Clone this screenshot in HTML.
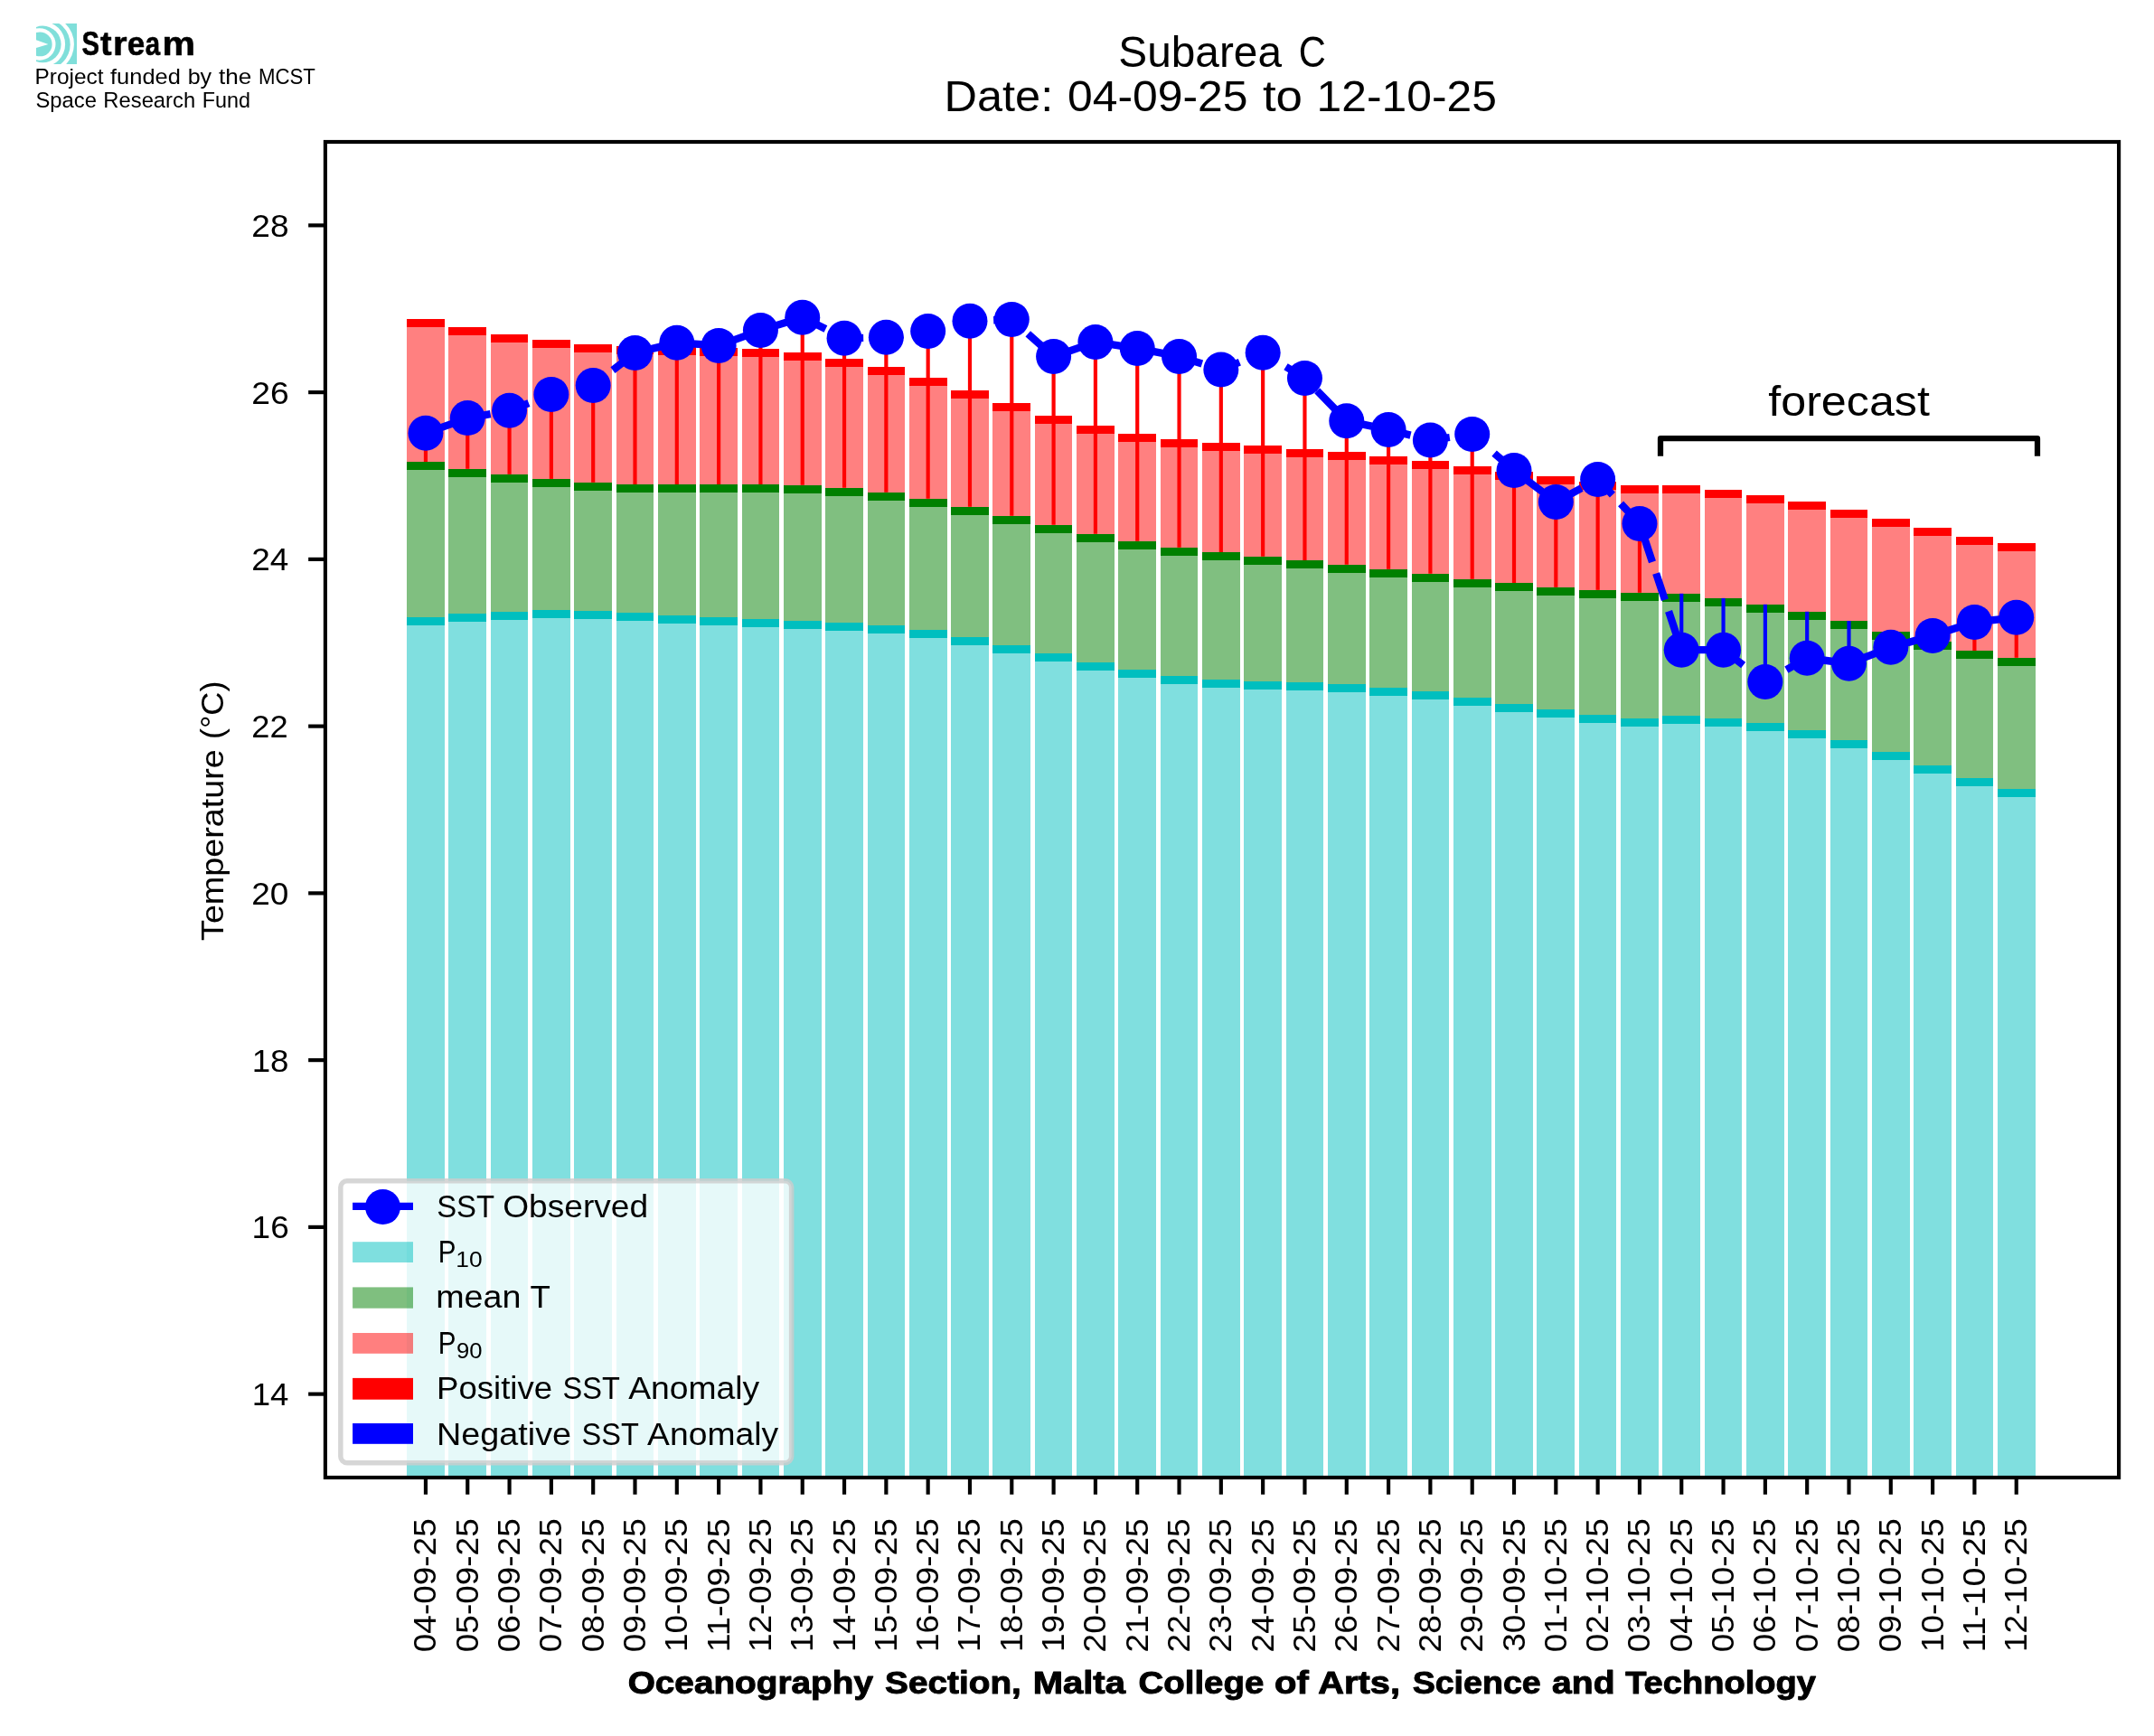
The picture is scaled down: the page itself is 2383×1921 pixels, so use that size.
<!DOCTYPE html>
<html lang="en"><head><meta charset="utf-8"><title>Subarea C SST</title>
<style>html,body{margin:0;padding:0;background:#fff;}body{width:2383px;height:1921px;overflow:hidden;font-family:"Liberation Sans",sans-serif;}svg{display:block;will-change:transform;}</style>
</head><body>
<svg width="2383" height="1921" viewBox="0 0 2383 1921" font-family="Liberation Sans, sans-serif" fill="#000">
<rect width="2383" height="1921" fill="#fff"/>
<defs><clipPath id="lg"><rect x="40" y="25.9" width="45.1" height="45.1"/></clipPath></defs>
<g clip-path="url(#lg)"><rect x="40" y="25.9" width="45.1" height="45.1" fill="#80dfda"/><circle cx="49.64" cy="48.96" r="32.26" fill="#fff"/><circle cx="49.85" cy="49.14" r="27.85" fill="#80dfda"/><circle cx="46.96" cy="48.88" r="25.14" fill="#fff"/><circle cx="47.25" cy="48.95" r="20.35" fill="#80dfda"/><circle cx="43.75" cy="48.95" r="17.75" fill="#fff"/><circle cx="44.2" cy="48.9" r="13.45" fill="#80dfda"/><path d="M39,43.9 L53.4,49.06 L39,53.4 Z" fill="#fff"/></g>
<text y="61.3" font-size="37" font-weight="bold" stroke="#000" stroke-width="0.6" stroke-linejoin="round"><tspan x="90.55" textLength="19.51" lengthAdjust="spacingAndGlyphs">S</tspan><tspan x="111.03" textLength="12.57" lengthAdjust="spacingAndGlyphs">t</tspan><tspan x="125.10" textLength="15.57" lengthAdjust="spacingAndGlyphs">r</tspan><tspan x="140.69" textLength="19.49" lengthAdjust="spacingAndGlyphs">e</tspan><tspan x="160.69" textLength="16.32" lengthAdjust="spacingAndGlyphs">a</tspan><tspan x="179.63" textLength="36.50" lengthAdjust="spacingAndGlyphs">m</tspan></text>
<text y="92.80" font-size="23.53"><tspan x="38.49" textLength="76.00" lengthAdjust="spacingAndGlyphs">Project</tspan> <tspan x="122.07" textLength="77.75" lengthAdjust="spacingAndGlyphs">funded</tspan> <tspan x="207.69" textLength="26.47" lengthAdjust="spacingAndGlyphs">by</tspan> <tspan x="242.05" textLength="36.37" lengthAdjust="spacingAndGlyphs">the</tspan> <tspan x="285.95" textLength="62.96" lengthAdjust="spacingAndGlyphs">MCST</tspan></text>
<text y="118.80" font-size="23.53"><tspan x="39.43" textLength="67.46" lengthAdjust="spacingAndGlyphs">Space</tspan> <tspan x="114.35" textLength="101.78" lengthAdjust="spacingAndGlyphs">Research</tspan> <tspan x="223.81" textLength="53.30" lengthAdjust="spacingAndGlyphs">Fund</tspan></text>
<text y="74.30" font-size="47.70"><tspan x="1237.35" textLength="180.61" lengthAdjust="spacingAndGlyphs">Subarea</tspan> <tspan x="1436.77" textLength="30.12" lengthAdjust="spacingAndGlyphs">C</tspan></text>
<text y="123.30" font-size="47.70"><tspan x="1044.53" textLength="120.69" lengthAdjust="spacingAndGlyphs">Date:</tspan> <tspan x="1181.09" textLength="199.42" lengthAdjust="spacingAndGlyphs">04-09-25</tspan> <tspan x="1396.95" textLength="44.10" lengthAdjust="spacingAndGlyphs">to</tspan> <tspan x="1456.59" textLength="199.28" lengthAdjust="spacingAndGlyphs">12-10-25</tspan></text>
<rect x="450" y="683" width="42" height="952.0" fill="#80dfdf"/>
<rect x="450" y="511" width="42" height="172" fill="#80bf80"/>
<rect x="450" y="353" width="42" height="158" fill="#ff8080"/>
<rect x="450" y="683" width="42" height="9" fill="#00bfbf"/>
<rect x="450" y="511" width="42" height="9" fill="#008000"/>
<rect x="450" y="353" width="42" height="9" fill="#ff0000"/>
<rect x="496" y="679" width="42" height="956.0" fill="#80dfdf"/>
<rect x="496" y="519" width="42" height="160" fill="#80bf80"/>
<rect x="496" y="362" width="42" height="157" fill="#ff8080"/>
<rect x="496" y="679" width="42" height="9" fill="#00bfbf"/>
<rect x="496" y="519" width="42" height="9" fill="#008000"/>
<rect x="496" y="362" width="42" height="9" fill="#ff0000"/>
<rect x="543" y="677" width="41" height="958.0" fill="#80dfdf"/>
<rect x="543" y="525" width="41" height="152" fill="#80bf80"/>
<rect x="543" y="370" width="41" height="155" fill="#ff8080"/>
<rect x="543" y="677" width="41" height="9" fill="#00bfbf"/>
<rect x="543" y="525" width="41" height="9" fill="#008000"/>
<rect x="543" y="370" width="41" height="9" fill="#ff0000"/>
<rect x="589" y="675" width="42" height="960.0" fill="#80dfdf"/>
<rect x="589" y="530" width="42" height="145" fill="#80bf80"/>
<rect x="589" y="376" width="42" height="154" fill="#ff8080"/>
<rect x="589" y="675" width="42" height="9" fill="#00bfbf"/>
<rect x="589" y="530" width="42" height="9" fill="#008000"/>
<rect x="589" y="376" width="42" height="9" fill="#ff0000"/>
<rect x="635" y="676" width="42" height="959.0" fill="#80dfdf"/>
<rect x="635" y="534" width="42" height="142" fill="#80bf80"/>
<rect x="635" y="381" width="42" height="153" fill="#ff8080"/>
<rect x="635" y="676" width="42" height="9" fill="#00bfbf"/>
<rect x="635" y="534" width="42" height="9" fill="#008000"/>
<rect x="635" y="381" width="42" height="9" fill="#ff0000"/>
<rect x="682" y="678" width="41" height="957.0" fill="#80dfdf"/>
<rect x="682" y="536" width="41" height="142" fill="#80bf80"/>
<rect x="682" y="383" width="41" height="153" fill="#ff8080"/>
<rect x="682" y="678" width="41" height="9" fill="#00bfbf"/>
<rect x="682" y="536" width="41" height="9" fill="#008000"/>
<rect x="682" y="383" width="41" height="9" fill="#ff0000"/>
<rect x="728" y="681" width="42" height="954.0" fill="#80dfdf"/>
<rect x="728" y="536" width="42" height="145" fill="#80bf80"/>
<rect x="728" y="384" width="42" height="152" fill="#ff8080"/>
<rect x="728" y="681" width="42" height="9" fill="#00bfbf"/>
<rect x="728" y="536" width="42" height="9" fill="#008000"/>
<rect x="728" y="384" width="42" height="9" fill="#ff0000"/>
<rect x="774" y="683" width="42" height="952.0" fill="#80dfdf"/>
<rect x="774" y="536" width="42" height="147" fill="#80bf80"/>
<rect x="774" y="385" width="42" height="151" fill="#ff8080"/>
<rect x="774" y="683" width="42" height="9" fill="#00bfbf"/>
<rect x="774" y="536" width="42" height="9" fill="#008000"/>
<rect x="774" y="385" width="42" height="9" fill="#ff0000"/>
<rect x="821" y="685" width="41" height="950.0" fill="#80dfdf"/>
<rect x="821" y="536" width="41" height="149" fill="#80bf80"/>
<rect x="821" y="386" width="41" height="150" fill="#ff8080"/>
<rect x="821" y="685" width="41" height="9" fill="#00bfbf"/>
<rect x="821" y="536" width="41" height="9" fill="#008000"/>
<rect x="821" y="386" width="41" height="9" fill="#ff0000"/>
<rect x="867" y="687" width="42" height="948.0" fill="#80dfdf"/>
<rect x="867" y="537" width="42" height="150" fill="#80bf80"/>
<rect x="867" y="390" width="42" height="147" fill="#ff8080"/>
<rect x="867" y="687" width="42" height="9" fill="#00bfbf"/>
<rect x="867" y="537" width="42" height="9" fill="#008000"/>
<rect x="867" y="390" width="42" height="9" fill="#ff0000"/>
<rect x="913" y="689" width="42" height="946.0" fill="#80dfdf"/>
<rect x="913" y="540" width="42" height="149" fill="#80bf80"/>
<rect x="913" y="397" width="42" height="143" fill="#ff8080"/>
<rect x="913" y="689" width="42" height="9" fill="#00bfbf"/>
<rect x="913" y="540" width="42" height="9" fill="#008000"/>
<rect x="913" y="397" width="42" height="9" fill="#ff0000"/>
<rect x="960" y="692" width="41" height="943.0" fill="#80dfdf"/>
<rect x="960" y="545" width="41" height="147" fill="#80bf80"/>
<rect x="960" y="406" width="41" height="139" fill="#ff8080"/>
<rect x="960" y="692" width="41" height="9" fill="#00bfbf"/>
<rect x="960" y="545" width="41" height="9" fill="#008000"/>
<rect x="960" y="406" width="41" height="9" fill="#ff0000"/>
<rect x="1006" y="697" width="42" height="938.0" fill="#80dfdf"/>
<rect x="1006" y="552" width="42" height="145" fill="#80bf80"/>
<rect x="1006" y="418" width="42" height="134" fill="#ff8080"/>
<rect x="1006" y="697" width="42" height="9" fill="#00bfbf"/>
<rect x="1006" y="552" width="42" height="9" fill="#008000"/>
<rect x="1006" y="418" width="42" height="9" fill="#ff0000"/>
<rect x="1052" y="705" width="42" height="930.0" fill="#80dfdf"/>
<rect x="1052" y="561" width="42" height="144" fill="#80bf80"/>
<rect x="1052" y="432" width="42" height="129" fill="#ff8080"/>
<rect x="1052" y="705" width="42" height="9" fill="#00bfbf"/>
<rect x="1052" y="561" width="42" height="9" fill="#008000"/>
<rect x="1052" y="432" width="42" height="9" fill="#ff0000"/>
<rect x="1098" y="714" width="42" height="921.0" fill="#80dfdf"/>
<rect x="1098" y="571" width="42" height="143" fill="#80bf80"/>
<rect x="1098" y="446" width="42" height="125" fill="#ff8080"/>
<rect x="1098" y="714" width="42" height="9" fill="#00bfbf"/>
<rect x="1098" y="571" width="42" height="9" fill="#008000"/>
<rect x="1098" y="446" width="42" height="9" fill="#ff0000"/>
<rect x="1145" y="723" width="41" height="912.0" fill="#80dfdf"/>
<rect x="1145" y="581" width="41" height="142" fill="#80bf80"/>
<rect x="1145" y="460" width="41" height="121" fill="#ff8080"/>
<rect x="1145" y="723" width="41" height="9" fill="#00bfbf"/>
<rect x="1145" y="581" width="41" height="9" fill="#008000"/>
<rect x="1145" y="460" width="41" height="9" fill="#ff0000"/>
<rect x="1191" y="733" width="42" height="902.0" fill="#80dfdf"/>
<rect x="1191" y="591" width="42" height="142" fill="#80bf80"/>
<rect x="1191" y="471" width="42" height="120" fill="#ff8080"/>
<rect x="1191" y="733" width="42" height="9" fill="#00bfbf"/>
<rect x="1191" y="591" width="42" height="9" fill="#008000"/>
<rect x="1191" y="471" width="42" height="9" fill="#ff0000"/>
<rect x="1237" y="741" width="42" height="894.0" fill="#80dfdf"/>
<rect x="1237" y="599" width="42" height="142" fill="#80bf80"/>
<rect x="1237" y="480" width="42" height="119" fill="#ff8080"/>
<rect x="1237" y="741" width="42" height="9" fill="#00bfbf"/>
<rect x="1237" y="599" width="42" height="9" fill="#008000"/>
<rect x="1237" y="480" width="42" height="9" fill="#ff0000"/>
<rect x="1284" y="748" width="41" height="887.0" fill="#80dfdf"/>
<rect x="1284" y="606" width="41" height="142" fill="#80bf80"/>
<rect x="1284" y="486" width="41" height="120" fill="#ff8080"/>
<rect x="1284" y="748" width="41" height="9" fill="#00bfbf"/>
<rect x="1284" y="606" width="41" height="9" fill="#008000"/>
<rect x="1284" y="486" width="41" height="9" fill="#ff0000"/>
<rect x="1330" y="752" width="42" height="883.0" fill="#80dfdf"/>
<rect x="1330" y="611" width="42" height="141" fill="#80bf80"/>
<rect x="1330" y="490" width="42" height="121" fill="#ff8080"/>
<rect x="1330" y="752" width="42" height="9" fill="#00bfbf"/>
<rect x="1330" y="611" width="42" height="9" fill="#008000"/>
<rect x="1330" y="490" width="42" height="9" fill="#ff0000"/>
<rect x="1376" y="754" width="42" height="881.0" fill="#80dfdf"/>
<rect x="1376" y="616" width="42" height="138" fill="#80bf80"/>
<rect x="1376" y="493" width="42" height="123" fill="#ff8080"/>
<rect x="1376" y="754" width="42" height="9" fill="#00bfbf"/>
<rect x="1376" y="616" width="42" height="9" fill="#008000"/>
<rect x="1376" y="493" width="42" height="9" fill="#ff0000"/>
<rect x="1423" y="755" width="41" height="880.0" fill="#80dfdf"/>
<rect x="1423" y="620" width="41" height="135" fill="#80bf80"/>
<rect x="1423" y="497" width="41" height="123" fill="#ff8080"/>
<rect x="1423" y="755" width="41" height="9" fill="#00bfbf"/>
<rect x="1423" y="620" width="41" height="9" fill="#008000"/>
<rect x="1423" y="497" width="41" height="9" fill="#ff0000"/>
<rect x="1469" y="757" width="42" height="878.0" fill="#80dfdf"/>
<rect x="1469" y="625" width="42" height="132" fill="#80bf80"/>
<rect x="1469" y="500" width="42" height="125" fill="#ff8080"/>
<rect x="1469" y="757" width="42" height="9" fill="#00bfbf"/>
<rect x="1469" y="625" width="42" height="9" fill="#008000"/>
<rect x="1469" y="500" width="42" height="9" fill="#ff0000"/>
<rect x="1515" y="761" width="42" height="874.0" fill="#80dfdf"/>
<rect x="1515" y="630" width="42" height="131" fill="#80bf80"/>
<rect x="1515" y="505" width="42" height="125" fill="#ff8080"/>
<rect x="1515" y="761" width="42" height="9" fill="#00bfbf"/>
<rect x="1515" y="630" width="42" height="9" fill="#008000"/>
<rect x="1515" y="505" width="42" height="9" fill="#ff0000"/>
<rect x="1562" y="765" width="41" height="870.0" fill="#80dfdf"/>
<rect x="1562" y="635" width="41" height="130" fill="#80bf80"/>
<rect x="1562" y="510" width="41" height="125" fill="#ff8080"/>
<rect x="1562" y="765" width="41" height="9" fill="#00bfbf"/>
<rect x="1562" y="635" width="41" height="9" fill="#008000"/>
<rect x="1562" y="510" width="41" height="9" fill="#ff0000"/>
<rect x="1608" y="772" width="42" height="863.0" fill="#80dfdf"/>
<rect x="1608" y="641" width="42" height="131" fill="#80bf80"/>
<rect x="1608" y="516" width="42" height="125" fill="#ff8080"/>
<rect x="1608" y="772" width="42" height="9" fill="#00bfbf"/>
<rect x="1608" y="641" width="42" height="9" fill="#008000"/>
<rect x="1608" y="516" width="42" height="9" fill="#ff0000"/>
<rect x="1654" y="779" width="42" height="856.0" fill="#80dfdf"/>
<rect x="1654" y="645" width="42" height="134" fill="#80bf80"/>
<rect x="1654" y="522" width="42" height="123" fill="#ff8080"/>
<rect x="1654" y="779" width="42" height="9" fill="#00bfbf"/>
<rect x="1654" y="645" width="42" height="9" fill="#008000"/>
<rect x="1654" y="522" width="42" height="9" fill="#ff0000"/>
<rect x="1700" y="785" width="42" height="850.0" fill="#80dfdf"/>
<rect x="1700" y="650" width="42" height="135" fill="#80bf80"/>
<rect x="1700" y="527" width="42" height="123" fill="#ff8080"/>
<rect x="1700" y="785" width="42" height="9" fill="#00bfbf"/>
<rect x="1700" y="650" width="42" height="9" fill="#008000"/>
<rect x="1700" y="527" width="42" height="9" fill="#ff0000"/>
<rect x="1747" y="791" width="41" height="844.0" fill="#80dfdf"/>
<rect x="1747" y="653" width="41" height="138" fill="#80bf80"/>
<rect x="1747" y="533" width="41" height="120" fill="#ff8080"/>
<rect x="1747" y="791" width="41" height="9" fill="#00bfbf"/>
<rect x="1747" y="653" width="41" height="9" fill="#008000"/>
<rect x="1747" y="533" width="41" height="9" fill="#ff0000"/>
<rect x="1793" y="795" width="42" height="840.0" fill="#80dfdf"/>
<rect x="1793" y="656" width="42" height="139" fill="#80bf80"/>
<rect x="1793" y="537" width="42" height="119" fill="#ff8080"/>
<rect x="1793" y="795" width="42" height="9" fill="#00bfbf"/>
<rect x="1793" y="656" width="42" height="9" fill="#008000"/>
<rect x="1793" y="537" width="42" height="9" fill="#ff0000"/>
<rect x="1839" y="792" width="42" height="843.0" fill="#80dfdf"/>
<rect x="1839" y="657" width="42" height="135" fill="#80bf80"/>
<rect x="1839" y="537" width="42" height="120" fill="#ff8080"/>
<rect x="1839" y="792" width="42" height="9" fill="#00bfbf"/>
<rect x="1839" y="657" width="42" height="9" fill="#008000"/>
<rect x="1839" y="537" width="42" height="9" fill="#ff0000"/>
<rect x="1886" y="795" width="41" height="840.0" fill="#80dfdf"/>
<rect x="1886" y="662" width="41" height="133" fill="#80bf80"/>
<rect x="1886" y="542" width="41" height="120" fill="#ff8080"/>
<rect x="1886" y="795" width="41" height="9" fill="#00bfbf"/>
<rect x="1886" y="662" width="41" height="9" fill="#008000"/>
<rect x="1886" y="542" width="41" height="9" fill="#ff0000"/>
<rect x="1932" y="800" width="42" height="835.0" fill="#80dfdf"/>
<rect x="1932" y="669" width="42" height="131" fill="#80bf80"/>
<rect x="1932" y="548" width="42" height="121" fill="#ff8080"/>
<rect x="1932" y="800" width="42" height="9" fill="#00bfbf"/>
<rect x="1932" y="669" width="42" height="9" fill="#008000"/>
<rect x="1932" y="548" width="42" height="9" fill="#ff0000"/>
<rect x="1978" y="808" width="42" height="827.0" fill="#80dfdf"/>
<rect x="1978" y="677" width="42" height="131" fill="#80bf80"/>
<rect x="1978" y="555" width="42" height="122" fill="#ff8080"/>
<rect x="1978" y="808" width="42" height="9" fill="#00bfbf"/>
<rect x="1978" y="677" width="42" height="9" fill="#008000"/>
<rect x="1978" y="555" width="42" height="9" fill="#ff0000"/>
<rect x="2025" y="819" width="41" height="816.0" fill="#80dfdf"/>
<rect x="2025" y="687" width="41" height="132" fill="#80bf80"/>
<rect x="2025" y="564" width="41" height="123" fill="#ff8080"/>
<rect x="2025" y="819" width="41" height="9" fill="#00bfbf"/>
<rect x="2025" y="687" width="41" height="9" fill="#008000"/>
<rect x="2025" y="564" width="41" height="9" fill="#ff0000"/>
<rect x="2071" y="832" width="42" height="803.0" fill="#80dfdf"/>
<rect x="2071" y="699" width="42" height="133" fill="#80bf80"/>
<rect x="2071" y="574" width="42" height="125" fill="#ff8080"/>
<rect x="2071" y="832" width="42" height="9" fill="#00bfbf"/>
<rect x="2071" y="699" width="42" height="9" fill="#008000"/>
<rect x="2071" y="574" width="42" height="9" fill="#ff0000"/>
<rect x="2117" y="847" width="42" height="788.0" fill="#80dfdf"/>
<rect x="2117" y="710" width="42" height="137" fill="#80bf80"/>
<rect x="2117" y="584" width="42" height="126" fill="#ff8080"/>
<rect x="2117" y="847" width="42" height="9" fill="#00bfbf"/>
<rect x="2117" y="710" width="42" height="9" fill="#008000"/>
<rect x="2117" y="584" width="42" height="9" fill="#ff0000"/>
<rect x="2164" y="861" width="41" height="774.0" fill="#80dfdf"/>
<rect x="2164" y="720" width="41" height="141" fill="#80bf80"/>
<rect x="2164" y="594" width="41" height="126" fill="#ff8080"/>
<rect x="2164" y="861" width="41" height="9" fill="#00bfbf"/>
<rect x="2164" y="720" width="41" height="9" fill="#008000"/>
<rect x="2164" y="594" width="41" height="9" fill="#ff0000"/>
<rect x="2210" y="873" width="42" height="762.0" fill="#80dfdf"/>
<rect x="2210" y="728" width="42" height="145" fill="#80bf80"/>
<rect x="2210" y="601" width="42" height="127" fill="#ff8080"/>
<rect x="2210" y="873" width="42" height="9" fill="#00bfbf"/>
<rect x="2210" y="728" width="42" height="9" fill="#008000"/>
<rect x="2210" y="601" width="42" height="9" fill="#ff0000"/>
<line x1="470.95" x2="470.95" y1="511.0" y2="479.2" stroke="#ff0000" stroke-width="4.17"/>
<line x1="517.26" x2="517.26" y1="518.8" y2="462.6" stroke="#ff0000" stroke-width="4.17"/>
<line x1="563.57" x2="563.57" y1="524.8" y2="454.3" stroke="#ff0000" stroke-width="4.17"/>
<line x1="609.88" x2="609.88" y1="529.9" y2="436.4" stroke="#ff0000" stroke-width="4.17"/>
<line x1="656.19" x2="656.19" y1="533.8" y2="426.5" stroke="#ff0000" stroke-width="4.17"/>
<line x1="702.50" x2="702.50" y1="535.9" y2="390.5" stroke="#ff0000" stroke-width="4.17"/>
<line x1="748.81" x2="748.81" y1="535.9" y2="379.2" stroke="#ff0000" stroke-width="4.17"/>
<line x1="795.12" x2="795.12" y1="535.9" y2="382.4" stroke="#ff0000" stroke-width="4.17"/>
<line x1="841.43" x2="841.43" y1="535.9" y2="365.5" stroke="#ff0000" stroke-width="4.17"/>
<line x1="887.74" x2="887.74" y1="536.8" y2="351.3" stroke="#ff0000" stroke-width="4.17"/>
<line x1="934.05" x2="934.05" y1="539.8" y2="374.3" stroke="#ff0000" stroke-width="4.17"/>
<line x1="980.36" x2="980.36" y1="544.7" y2="373.3" stroke="#ff0000" stroke-width="4.17"/>
<line x1="1026.67" x2="1026.67" y1="551.7" y2="366.4" stroke="#ff0000" stroke-width="4.17"/>
<line x1="1072.98" x2="1072.98" y1="560.7" y2="355.3" stroke="#ff0000" stroke-width="4.17"/>
<line x1="1119.29" x2="1119.29" y1="570.7" y2="353.4" stroke="#ff0000" stroke-width="4.17"/>
<line x1="1165.60" x2="1165.60" y1="580.7" y2="394.5" stroke="#ff0000" stroke-width="4.17"/>
<line x1="1211.91" x2="1211.91" y1="590.7" y2="378.5" stroke="#ff0000" stroke-width="4.17"/>
<line x1="1258.22" x2="1258.22" y1="598.8" y2="385.5" stroke="#ff0000" stroke-width="4.17"/>
<line x1="1304.53" x2="1304.53" y1="605.7" y2="394.5" stroke="#ff0000" stroke-width="4.17"/>
<line x1="1350.84" x2="1350.84" y1="610.9" y2="409.1" stroke="#ff0000" stroke-width="4.17"/>
<line x1="1397.15" x2="1397.15" y1="615.7" y2="390.3" stroke="#ff0000" stroke-width="4.17"/>
<line x1="1443.46" x2="1443.46" y1="619.9" y2="418.4" stroke="#ff0000" stroke-width="4.17"/>
<line x1="1489.77" x2="1489.77" y1="624.8" y2="465.8" stroke="#ff0000" stroke-width="4.17"/>
<line x1="1536.08" x2="1536.08" y1="629.7" y2="475.5" stroke="#ff0000" stroke-width="4.17"/>
<line x1="1582.39" x2="1582.39" y1="634.8" y2="487.1" stroke="#ff0000" stroke-width="4.17"/>
<line x1="1628.70" x2="1628.70" y1="640.8" y2="480.4" stroke="#ff0000" stroke-width="4.17"/>
<line x1="1675.01" x2="1675.01" y1="645.0" y2="520.6" stroke="#ff0000" stroke-width="4.17"/>
<line x1="1721.32" x2="1721.32" y1="649.8" y2="555.4" stroke="#ff0000" stroke-width="4.17"/>
<line x1="1767.63" x2="1767.63" y1="652.8" y2="530.4" stroke="#ff0000" stroke-width="4.17"/>
<line x1="1813.94" x2="1813.94" y1="655.8" y2="579.5" stroke="#ff0000" stroke-width="4.17"/>
<line x1="1860.25" x2="1860.25" y1="656.8" y2="719.2" stroke="#0000ff" stroke-width="4.17"/>
<line x1="1906.56" x2="1906.56" y1="661.9" y2="719.2" stroke="#0000ff" stroke-width="4.17"/>
<line x1="1952.87" x2="1952.87" y1="668.8" y2="754.5" stroke="#0000ff" stroke-width="4.17"/>
<line x1="1999.18" x2="1999.18" y1="676.8" y2="728.2" stroke="#0000ff" stroke-width="4.17"/>
<line x1="2045.49" x2="2045.49" y1="687.0" y2="734.2" stroke="#0000ff" stroke-width="4.17"/>
<line x1="2091.80" x2="2091.80" y1="699.0" y2="716.3" stroke="#0000ff" stroke-width="4.17"/>
<line x1="2138.11" x2="2138.11" y1="710.0" y2="703.4" stroke="#ff0000" stroke-width="4.17"/>
<line x1="2184.42" x2="2184.42" y1="720.0" y2="688.4" stroke="#ff0000" stroke-width="4.17"/>
<line x1="2230.73" x2="2230.73" y1="727.8" y2="683.3" stroke="#ff0000" stroke-width="4.17"/>
<polyline points="470.95,479.2 517.26,462.6 563.57,454.3 609.88,436.4 656.19,426.5 702.50,390.5 748.81,379.2 795.12,382.4 841.43,365.5 887.74,351.3 934.05,374.3 980.36,373.3 1026.67,366.4 1072.98,355.3 1119.29,353.4 1165.60,394.5 1211.91,378.5 1258.22,385.5 1304.53,394.5 1350.84,409.1 1397.15,390.3 1443.46,418.4 1489.77,465.8 1536.08,475.5 1582.39,487.1 1628.70,480.4 1675.01,520.6 1721.32,555.4 1767.63,530.4 1813.94,579.5 1860.25,719.2 1906.56,719.2 1952.87,754.5 1999.18,728.2 2045.49,734.2 2091.80,716.3 2138.11,703.4 2184.42,688.4 2230.73,683.3" fill="none" stroke="#0000ff" stroke-width="8.33" stroke-dasharray="30.83 13.33" stroke-linejoin="round"/>
<circle cx="470.95" cy="479.2" r="19.5" fill="#0000ff"/>
<circle cx="517.26" cy="462.6" r="19.5" fill="#0000ff"/>
<circle cx="563.57" cy="454.3" r="19.5" fill="#0000ff"/>
<circle cx="609.88" cy="436.4" r="19.5" fill="#0000ff"/>
<circle cx="656.19" cy="426.5" r="19.5" fill="#0000ff"/>
<circle cx="702.50" cy="390.5" r="19.5" fill="#0000ff"/>
<circle cx="748.81" cy="379.2" r="19.5" fill="#0000ff"/>
<circle cx="795.12" cy="382.4" r="19.5" fill="#0000ff"/>
<circle cx="841.43" cy="365.5" r="19.5" fill="#0000ff"/>
<circle cx="887.74" cy="351.3" r="19.5" fill="#0000ff"/>
<circle cx="934.05" cy="374.3" r="19.5" fill="#0000ff"/>
<circle cx="980.36" cy="373.3" r="19.5" fill="#0000ff"/>
<circle cx="1026.67" cy="366.4" r="19.5" fill="#0000ff"/>
<circle cx="1072.98" cy="355.3" r="19.5" fill="#0000ff"/>
<circle cx="1119.29" cy="353.4" r="19.5" fill="#0000ff"/>
<circle cx="1165.60" cy="394.5" r="19.5" fill="#0000ff"/>
<circle cx="1211.91" cy="378.5" r="19.5" fill="#0000ff"/>
<circle cx="1258.22" cy="385.5" r="19.5" fill="#0000ff"/>
<circle cx="1304.53" cy="394.5" r="19.5" fill="#0000ff"/>
<circle cx="1350.84" cy="409.1" r="19.5" fill="#0000ff"/>
<circle cx="1397.15" cy="390.3" r="19.5" fill="#0000ff"/>
<circle cx="1443.46" cy="418.4" r="19.5" fill="#0000ff"/>
<circle cx="1489.77" cy="465.8" r="19.5" fill="#0000ff"/>
<circle cx="1536.08" cy="475.5" r="19.5" fill="#0000ff"/>
<circle cx="1582.39" cy="487.1" r="19.5" fill="#0000ff"/>
<circle cx="1628.70" cy="480.4" r="19.5" fill="#0000ff"/>
<circle cx="1675.01" cy="520.6" r="19.5" fill="#0000ff"/>
<circle cx="1721.32" cy="555.4" r="19.5" fill="#0000ff"/>
<circle cx="1767.63" cy="530.4" r="19.5" fill="#0000ff"/>
<circle cx="1813.94" cy="579.5" r="19.5" fill="#0000ff"/>
<circle cx="1860.25" cy="719.2" r="19.5" fill="#0000ff"/>
<circle cx="1906.56" cy="719.2" r="19.5" fill="#0000ff"/>
<circle cx="1952.87" cy="754.5" r="19.5" fill="#0000ff"/>
<circle cx="1999.18" cy="728.2" r="19.5" fill="#0000ff"/>
<circle cx="2045.49" cy="734.2" r="19.5" fill="#0000ff"/>
<circle cx="2091.80" cy="716.3" r="19.5" fill="#0000ff"/>
<circle cx="2138.11" cy="703.4" r="19.5" fill="#0000ff"/>
<circle cx="2184.42" cy="688.4" r="19.5" fill="#0000ff"/>
<circle cx="2230.73" cy="683.3" r="19.5" fill="#0000ff"/>
<polyline points="1837,504.7 1837,485.2 2254,485.2 2254,504.7" fill="none" stroke="#000" stroke-width="6.25" stroke-linejoin="round"/>
<text y="459.50" font-size="47.06"><tspan x="1956.27" textLength="178.59" lengthAdjust="spacingAndGlyphs">forecast</tspan></text>
<rect x="359.9" y="157.0" width="1984.2" height="1478.0" fill="none" stroke="#000" stroke-width="4.17"/>
<line x1="341.15" x2="359.90" y1="1542.62" y2="1542.62" stroke="#000" stroke-width="4.17"/>
<text y="1555.12" font-size="35.66"><tspan x="278.66" textLength="40.75" lengthAdjust="spacingAndGlyphs">14</tspan></text>
<line x1="341.15" x2="359.90" y1="1357.88" y2="1357.88" stroke="#000" stroke-width="4.17"/>
<text y="1370.38" font-size="35.66"><tspan x="278.63" textLength="41.18" lengthAdjust="spacingAndGlyphs">16</tspan></text>
<line x1="341.15" x2="359.90" y1="1173.12" y2="1173.12" stroke="#000" stroke-width="4.17"/>
<text y="1185.62" font-size="35.66"><tspan x="278.65" textLength="40.90" lengthAdjust="spacingAndGlyphs">18</tspan></text>
<line x1="341.15" x2="359.90" y1="988.38" y2="988.38" stroke="#000" stroke-width="4.17"/>
<text y="1000.88" font-size="35.66"><tspan x="278.30" textLength="41.15" lengthAdjust="spacingAndGlyphs">20</tspan></text>
<line x1="341.15" x2="359.90" y1="803.62" y2="803.62" stroke="#000" stroke-width="4.17"/>
<text y="816.12" font-size="35.66"><tspan x="278.34" textLength="40.37" lengthAdjust="spacingAndGlyphs">22</tspan></text>
<line x1="341.15" x2="359.90" y1="618.88" y2="618.88" stroke="#000" stroke-width="4.17"/>
<text y="631.38" font-size="35.66"><tspan x="278.31" textLength="41.11" lengthAdjust="spacingAndGlyphs">24</tspan></text>
<line x1="341.15" x2="359.90" y1="434.12" y2="434.12" stroke="#000" stroke-width="4.17"/>
<text y="446.62" font-size="35.66"><tspan x="278.29" textLength="41.54" lengthAdjust="spacingAndGlyphs">26</tspan></text>
<line x1="341.15" x2="359.90" y1="249.38" y2="249.38" stroke="#000" stroke-width="4.17"/>
<text y="261.88" font-size="35.66"><tspan x="278.30" textLength="41.26" lengthAdjust="spacingAndGlyphs">28</tspan></text>
<line x1="470.95" x2="470.95" y1="1635.00" y2="1653.75" stroke="#000" stroke-width="4.17"/>
<text transform="translate(482.45,1828.95) rotate(-90)" x="0.76" y="0" font-size="35.66" textLength="147.89" lengthAdjust="spacingAndGlyphs">04-09-25</text>
<line x1="517.26" x2="517.26" y1="1635.00" y2="1653.75" stroke="#000" stroke-width="4.17"/>
<text transform="translate(528.76,1828.95) rotate(-90)" x="0.76" y="0" font-size="35.66" textLength="147.89" lengthAdjust="spacingAndGlyphs">05-09-25</text>
<line x1="563.57" x2="563.57" y1="1635.00" y2="1653.75" stroke="#000" stroke-width="4.17"/>
<text transform="translate(575.07,1828.95) rotate(-90)" x="0.76" y="0" font-size="35.66" textLength="147.89" lengthAdjust="spacingAndGlyphs">06-09-25</text>
<line x1="609.88" x2="609.88" y1="1635.00" y2="1653.75" stroke="#000" stroke-width="4.17"/>
<text transform="translate(621.38,1828.95) rotate(-90)" x="0.76" y="0" font-size="35.66" textLength="147.89" lengthAdjust="spacingAndGlyphs">07-09-25</text>
<line x1="656.19" x2="656.19" y1="1635.00" y2="1653.75" stroke="#000" stroke-width="4.17"/>
<text transform="translate(667.69,1828.95) rotate(-90)" x="0.76" y="0" font-size="35.66" textLength="147.89" lengthAdjust="spacingAndGlyphs">08-09-25</text>
<line x1="702.50" x2="702.50" y1="1635.00" y2="1653.75" stroke="#000" stroke-width="4.17"/>
<text transform="translate(714.00,1828.95) rotate(-90)" x="0.76" y="0" font-size="35.66" textLength="147.89" lengthAdjust="spacingAndGlyphs">09-09-25</text>
<line x1="748.81" x2="748.81" y1="1635.00" y2="1653.75" stroke="#000" stroke-width="4.17"/>
<text transform="translate(760.31,1828.95) rotate(-90)" x="0.87" y="0" font-size="35.66" textLength="147.79" lengthAdjust="spacingAndGlyphs">10-09-25</text>
<line x1="795.12" x2="795.12" y1="1635.00" y2="1653.75" stroke="#000" stroke-width="4.17"/>
<text transform="translate(806.62,1828.95) rotate(-90)" x="0.81" y="0" font-size="35.66" textLength="147.90" lengthAdjust="spacingAndGlyphs">11-09-25</text>
<line x1="841.43" x2="841.43" y1="1635.00" y2="1653.75" stroke="#000" stroke-width="4.17"/>
<text transform="translate(852.93,1828.95) rotate(-90)" x="0.87" y="0" font-size="35.66" textLength="147.79" lengthAdjust="spacingAndGlyphs">12-09-25</text>
<line x1="887.74" x2="887.74" y1="1635.00" y2="1653.75" stroke="#000" stroke-width="4.17"/>
<text transform="translate(899.24,1828.95) rotate(-90)" x="0.87" y="0" font-size="35.66" textLength="147.79" lengthAdjust="spacingAndGlyphs">13-09-25</text>
<line x1="934.05" x2="934.05" y1="1635.00" y2="1653.75" stroke="#000" stroke-width="4.17"/>
<text transform="translate(945.55,1828.95) rotate(-90)" x="0.87" y="0" font-size="35.66" textLength="147.79" lengthAdjust="spacingAndGlyphs">14-09-25</text>
<line x1="980.36" x2="980.36" y1="1635.00" y2="1653.75" stroke="#000" stroke-width="4.17"/>
<text transform="translate(991.86,1828.95) rotate(-90)" x="0.87" y="0" font-size="35.66" textLength="147.79" lengthAdjust="spacingAndGlyphs">15-09-25</text>
<line x1="1026.67" x2="1026.67" y1="1635.00" y2="1653.75" stroke="#000" stroke-width="4.17"/>
<text transform="translate(1038.17,1828.95) rotate(-90)" x="0.87" y="0" font-size="35.66" textLength="147.79" lengthAdjust="spacingAndGlyphs">16-09-25</text>
<line x1="1072.98" x2="1072.98" y1="1635.00" y2="1653.75" stroke="#000" stroke-width="4.17"/>
<text transform="translate(1084.48,1828.95) rotate(-90)" x="0.87" y="0" font-size="35.66" textLength="147.79" lengthAdjust="spacingAndGlyphs">17-09-25</text>
<line x1="1119.29" x2="1119.29" y1="1635.00" y2="1653.75" stroke="#000" stroke-width="4.17"/>
<text transform="translate(1130.79,1828.95) rotate(-90)" x="0.87" y="0" font-size="35.66" textLength="147.79" lengthAdjust="spacingAndGlyphs">18-09-25</text>
<line x1="1165.60" x2="1165.60" y1="1635.00" y2="1653.75" stroke="#000" stroke-width="4.17"/>
<text transform="translate(1177.10,1828.95) rotate(-90)" x="0.87" y="0" font-size="35.66" textLength="147.79" lengthAdjust="spacingAndGlyphs">19-09-25</text>
<line x1="1211.91" x2="1211.91" y1="1635.00" y2="1653.75" stroke="#000" stroke-width="4.17"/>
<text transform="translate(1223.41,1828.95) rotate(-90)" x="0.55" y="0" font-size="35.66" textLength="148.11" lengthAdjust="spacingAndGlyphs">20-09-25</text>
<line x1="1258.22" x2="1258.22" y1="1635.00" y2="1653.75" stroke="#000" stroke-width="4.17"/>
<text transform="translate(1269.72,1828.95) rotate(-90)" x="0.55" y="0" font-size="35.66" textLength="148.11" lengthAdjust="spacingAndGlyphs">21-09-25</text>
<line x1="1304.53" x2="1304.53" y1="1635.00" y2="1653.75" stroke="#000" stroke-width="4.17"/>
<text transform="translate(1316.03,1828.95) rotate(-90)" x="0.55" y="0" font-size="35.66" textLength="148.11" lengthAdjust="spacingAndGlyphs">22-09-25</text>
<line x1="1350.84" x2="1350.84" y1="1635.00" y2="1653.75" stroke="#000" stroke-width="4.17"/>
<text transform="translate(1362.34,1828.95) rotate(-90)" x="0.55" y="0" font-size="35.66" textLength="148.11" lengthAdjust="spacingAndGlyphs">23-09-25</text>
<line x1="1397.15" x2="1397.15" y1="1635.00" y2="1653.75" stroke="#000" stroke-width="4.17"/>
<text transform="translate(1408.65,1828.95) rotate(-90)" x="0.55" y="0" font-size="35.66" textLength="148.11" lengthAdjust="spacingAndGlyphs">24-09-25</text>
<line x1="1443.46" x2="1443.46" y1="1635.00" y2="1653.75" stroke="#000" stroke-width="4.17"/>
<text transform="translate(1454.96,1828.95) rotate(-90)" x="0.55" y="0" font-size="35.66" textLength="148.11" lengthAdjust="spacingAndGlyphs">25-09-25</text>
<line x1="1489.77" x2="1489.77" y1="1635.00" y2="1653.75" stroke="#000" stroke-width="4.17"/>
<text transform="translate(1501.27,1828.95) rotate(-90)" x="0.55" y="0" font-size="35.66" textLength="148.11" lengthAdjust="spacingAndGlyphs">26-09-25</text>
<line x1="1536.08" x2="1536.08" y1="1635.00" y2="1653.75" stroke="#000" stroke-width="4.17"/>
<text transform="translate(1547.58,1828.95) rotate(-90)" x="0.55" y="0" font-size="35.66" textLength="148.11" lengthAdjust="spacingAndGlyphs">27-09-25</text>
<line x1="1582.39" x2="1582.39" y1="1635.00" y2="1653.75" stroke="#000" stroke-width="4.17"/>
<text transform="translate(1593.89,1828.95) rotate(-90)" x="0.55" y="0" font-size="35.66" textLength="148.11" lengthAdjust="spacingAndGlyphs">28-09-25</text>
<line x1="1628.70" x2="1628.70" y1="1635.00" y2="1653.75" stroke="#000" stroke-width="4.17"/>
<text transform="translate(1640.20,1828.95) rotate(-90)" x="0.55" y="0" font-size="35.66" textLength="148.11" lengthAdjust="spacingAndGlyphs">29-09-25</text>
<line x1="1675.01" x2="1675.01" y1="1635.00" y2="1653.75" stroke="#000" stroke-width="4.17"/>
<text transform="translate(1686.51,1828.95) rotate(-90)" x="1.10" y="0" font-size="35.66" textLength="147.55" lengthAdjust="spacingAndGlyphs">30-09-25</text>
<line x1="1721.32" x2="1721.32" y1="1635.00" y2="1653.75" stroke="#000" stroke-width="4.17"/>
<text transform="translate(1732.82,1828.95) rotate(-90)" x="0.76" y="0" font-size="35.66" textLength="147.89" lengthAdjust="spacingAndGlyphs">01-10-25</text>
<line x1="1767.63" x2="1767.63" y1="1635.00" y2="1653.75" stroke="#000" stroke-width="4.17"/>
<text transform="translate(1779.13,1828.95) rotate(-90)" x="0.76" y="0" font-size="35.66" textLength="147.89" lengthAdjust="spacingAndGlyphs">02-10-25</text>
<line x1="1813.94" x2="1813.94" y1="1635.00" y2="1653.75" stroke="#000" stroke-width="4.17"/>
<text transform="translate(1825.44,1828.95) rotate(-90)" x="0.76" y="0" font-size="35.66" textLength="147.89" lengthAdjust="spacingAndGlyphs">03-10-25</text>
<line x1="1860.25" x2="1860.25" y1="1635.00" y2="1653.75" stroke="#000" stroke-width="4.17"/>
<text transform="translate(1871.75,1828.95) rotate(-90)" x="0.76" y="0" font-size="35.66" textLength="147.89" lengthAdjust="spacingAndGlyphs">04-10-25</text>
<line x1="1906.56" x2="1906.56" y1="1635.00" y2="1653.75" stroke="#000" stroke-width="4.17"/>
<text transform="translate(1918.06,1828.95) rotate(-90)" x="0.76" y="0" font-size="35.66" textLength="147.89" lengthAdjust="spacingAndGlyphs">05-10-25</text>
<line x1="1952.87" x2="1952.87" y1="1635.00" y2="1653.75" stroke="#000" stroke-width="4.17"/>
<text transform="translate(1964.37,1828.95) rotate(-90)" x="0.76" y="0" font-size="35.66" textLength="147.89" lengthAdjust="spacingAndGlyphs">06-10-25</text>
<line x1="1999.18" x2="1999.18" y1="1635.00" y2="1653.75" stroke="#000" stroke-width="4.17"/>
<text transform="translate(2010.68,1828.95) rotate(-90)" x="0.76" y="0" font-size="35.66" textLength="147.89" lengthAdjust="spacingAndGlyphs">07-10-25</text>
<line x1="2045.49" x2="2045.49" y1="1635.00" y2="1653.75" stroke="#000" stroke-width="4.17"/>
<text transform="translate(2056.99,1828.95) rotate(-90)" x="0.76" y="0" font-size="35.66" textLength="147.89" lengthAdjust="spacingAndGlyphs">08-10-25</text>
<line x1="2091.80" x2="2091.80" y1="1635.00" y2="1653.75" stroke="#000" stroke-width="4.17"/>
<text transform="translate(2103.30,1828.95) rotate(-90)" x="0.76" y="0" font-size="35.66" textLength="147.89" lengthAdjust="spacingAndGlyphs">09-10-25</text>
<line x1="2138.11" x2="2138.11" y1="1635.00" y2="1653.75" stroke="#000" stroke-width="4.17"/>
<text transform="translate(2149.61,1828.95) rotate(-90)" x="0.87" y="0" font-size="35.66" textLength="147.79" lengthAdjust="spacingAndGlyphs">10-10-25</text>
<line x1="2184.42" x2="2184.42" y1="1635.00" y2="1653.75" stroke="#000" stroke-width="4.17"/>
<text transform="translate(2195.92,1828.95) rotate(-90)" x="0.81" y="0" font-size="35.66" textLength="147.90" lengthAdjust="spacingAndGlyphs">11-10-25</text>
<line x1="2230.73" x2="2230.73" y1="1635.00" y2="1653.75" stroke="#000" stroke-width="4.17"/>
<text transform="translate(2242.23,1828.95) rotate(-90)" x="0.87" y="0" font-size="35.66" textLength="147.79" lengthAdjust="spacingAndGlyphs">12-10-25</text>
<text transform="translate(247.4,1040.1) rotate(-90)" y="0" font-size="35.33"><tspan x="-0.85" textLength="211.62" lengthAdjust="spacingAndGlyphs">Temperature</tspan> <tspan x="222.00" textLength="64.59" lengthAdjust="spacingAndGlyphs">(°C)</tspan></text>
<text y="1873.50" font-size="35.33" font-weight="bold" stroke="#000" stroke-width="1" stroke-linejoin="round"><tspan x="694.65" textLength="271.37" lengthAdjust="spacingAndGlyphs">Oceanography</tspan> <tspan x="979.13" textLength="150.71" lengthAdjust="spacingAndGlyphs">Section,</tspan> <tspan x="1142.67" textLength="102.29" lengthAdjust="spacingAndGlyphs">Malta</tspan> <tspan x="1259.53" textLength="138.75" lengthAdjust="spacingAndGlyphs">College</tspan> <tspan x="1410.10" textLength="37.76" lengthAdjust="spacingAndGlyphs">of</tspan> <tspan x="1458.33" textLength="90.63" lengthAdjust="spacingAndGlyphs">Arts,</tspan> <tspan x="1562.66" textLength="142.08" lengthAdjust="spacingAndGlyphs">Science</tspan> <tspan x="1717.08" textLength="69.50" lengthAdjust="spacingAndGlyphs">and</tspan> <tspan x="1798.16" textLength="210.75" lengthAdjust="spacingAndGlyphs">Technology</tspan></text>
<rect x="376.85" y="1306.85" width="498.8" height="311.8" rx="7" fill="#fff" fill-opacity="0.8" stroke="#cccccc" stroke-opacity="0.8" stroke-width="5.5"/>
<line x1="390.1" x2="457" y1="1334.8" y2="1334.8" stroke="#0000ff" stroke-width="8.33"/>
<circle cx="423.5" cy="1335.6" r="19.5" fill="#0000ff"/>
<rect x="390.1" y="1374.2" width="66.9" height="22.8" fill="#00bfbf" fill-opacity="0.5"/>
<rect x="390.1" y="1424.4" width="66.9" height="23.3" fill="#008000" fill-opacity="0.5"/>
<rect x="390.1" y="1475.0" width="66.9" height="22.8" fill="#ff0000" fill-opacity="0.5"/>
<rect x="390.1" y="1524.9" width="66.9" height="23.8" fill="#ff0000" fill-opacity="1"/>
<rect x="390.1" y="1575.0" width="66.9" height="22.8" fill="#0000ff" fill-opacity="1"/>
<text y="1346.80" font-size="35.33"><tspan x="483.14" textLength="63.28" lengthAdjust="spacingAndGlyphs">SST</tspan> <tspan x="556.29" textLength="160.77" lengthAdjust="spacingAndGlyphs">Observed</tspan></text>
<text y="1396.5" font-size="35.33"><tspan x="484.71" textLength="19.73" lengthAdjust="spacingAndGlyphs">P</tspan></text>
<text x="504.22" y="1402.10" font-size="24.73" textLength="29.33" lengthAdjust="spacingAndGlyphs">10</text>
<text y="1497.6" font-size="35.33"><tspan x="484.71" textLength="19.73" lengthAdjust="spacingAndGlyphs">P</tspan></text>
<text x="504.98" y="1503.20" font-size="24.73" textLength="28.54" lengthAdjust="spacingAndGlyphs">90</text>
<text y="1447.40" font-size="35.33"><tspan x="482.15" textLength="94.29" lengthAdjust="spacingAndGlyphs">mean</tspan> <tspan x="586.60" textLength="22.42" lengthAdjust="spacingAndGlyphs">T</tspan></text>
<text y="1548.20" font-size="35.33"><tspan x="483.08" textLength="128.01" lengthAdjust="spacingAndGlyphs">Positive</tspan> <tspan x="622.53" textLength="62.78" lengthAdjust="spacingAndGlyphs">SST</tspan> <tspan x="695.19" textLength="145.08" lengthAdjust="spacingAndGlyphs">Anomaly</tspan></text>
<text y="1598.80" font-size="35.33"><tspan x="482.98" textLength="149.14" lengthAdjust="spacingAndGlyphs">Negative</tspan> <tspan x="643.50" textLength="62.74" lengthAdjust="spacingAndGlyphs">SST</tspan> <tspan x="716.10" textLength="144.97" lengthAdjust="spacingAndGlyphs">Anomaly</tspan></text>
</svg>
</body></html>
